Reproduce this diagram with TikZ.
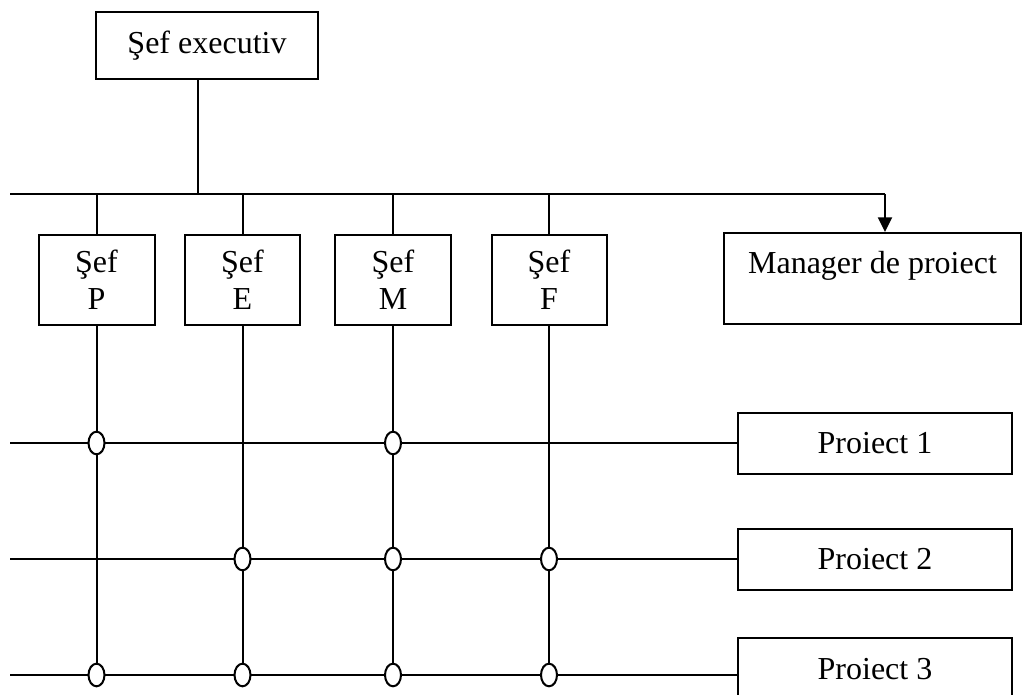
\documentclass[tikz,border=0pt]{standalone}
\usepackage{fontspec}
\setmainfont{Liberation Serif}
\usetikzlibrary{shapes.geometric,arrows.meta}
\begin{document}
\begin{tikzpicture}[x=0.75pt,y=-0.75pt,
  every node/.style={font=\fontsize{24}{27.75}\selectfont},
  box/.style={draw,line width=1.5pt,inner sep=0pt,align=center,fill=white},
  junc/.style={draw,ellipse,line width=1.5pt,fill=white,inner sep=0pt,minimum width=12pt,minimum height=17pt},
  ln/.style={line width=1.5pt},
]
\clip (0,0) rectangle (1024,695);
\fill[white] (0,0) rectangle (1024,695);
% boxes
\node[box,minimum width=166.5pt,minimum height=50.25pt] (exec) at (207,45.5) {Şef executiv};
\node[box,minimum width=87pt,minimum height=67.5pt] (sP) at (96.5,280) {Şef\\P};
\node[box,minimum width=86.25pt,minimum height=67.5pt] (sE) at (242.5,280) {Şef\\E};
\node[box,minimum width=87pt,minimum height=67.5pt] (sM) at (393,280) {Şef\\M};
\node[box,minimum width=86.25pt,minimum height=67.5pt] (sF) at (549,280) {Şef\\F};
\node[box,minimum width=222.75pt,minimum height=68.25pt] (mgr) at (872.5,278.5) {Manager de proiect\\[-4pt]\mbox{}};
\node[box,minimum width=205.5pt,minimum height=45.75pt] (pr1) at (875,443) {Proiect 1};
\node[box,minimum width=205.5pt,minimum height=45.75pt] (pr2) at (875,559) {Proiect 2};
\node[box,minimum width=205.5pt,minimum height=46.5pt] (pr3) at (875,669) {Proiect 3};
% bus
\coordinate (busL) at (10,194);
\coordinate (busE) at (198,194);
\coordinate (busR) at (885,194);
\draw[ln] (busE |- exec.south) -- (busE);
\draw[ln] (busL) -- (busR);
\draw[ln,-{Triangle[length=11pt,width=10.5pt]}] (busR) -- (busR |- mgr.north);
% project lines
\coordinate (l1) at (10,443);
\coordinate (l2) at (10,559);
\coordinate (l3) at (10,675);
\draw[ln] (l1) -- (pr1.west);
\draw[ln] (l2) -- (pr2.west);
\draw[ln] (l3) -- (l3 -| pr3.west);
\foreach \s in {sP,sE,sM,sF}{
  \draw[ln] (\s.north |- busL) -- (\s.north);
  \draw[ln] (\s.south) -- (\s.south |- l3);
}
% junctions
\node[junc] (j1P) at (sP.south |- l1) {};
\node[junc] (j1M) at (sM.south |- l1) {};
\node[junc] (j2E) at (sE.south |- l2) {};
\node[junc] (j2M) at (sM.south |- l2) {};
\node[junc] (j2F) at (sF.south |- l2) {};
\node[junc] (j3P) at (sP.south |- l3) {};
\node[junc] (j3E) at (sE.south |- l3) {};
\node[junc] (j3M) at (sM.south |- l3) {};
\node[junc] (j3F) at (sF.south |- l3) {};
\end{tikzpicture}
\end{document}
